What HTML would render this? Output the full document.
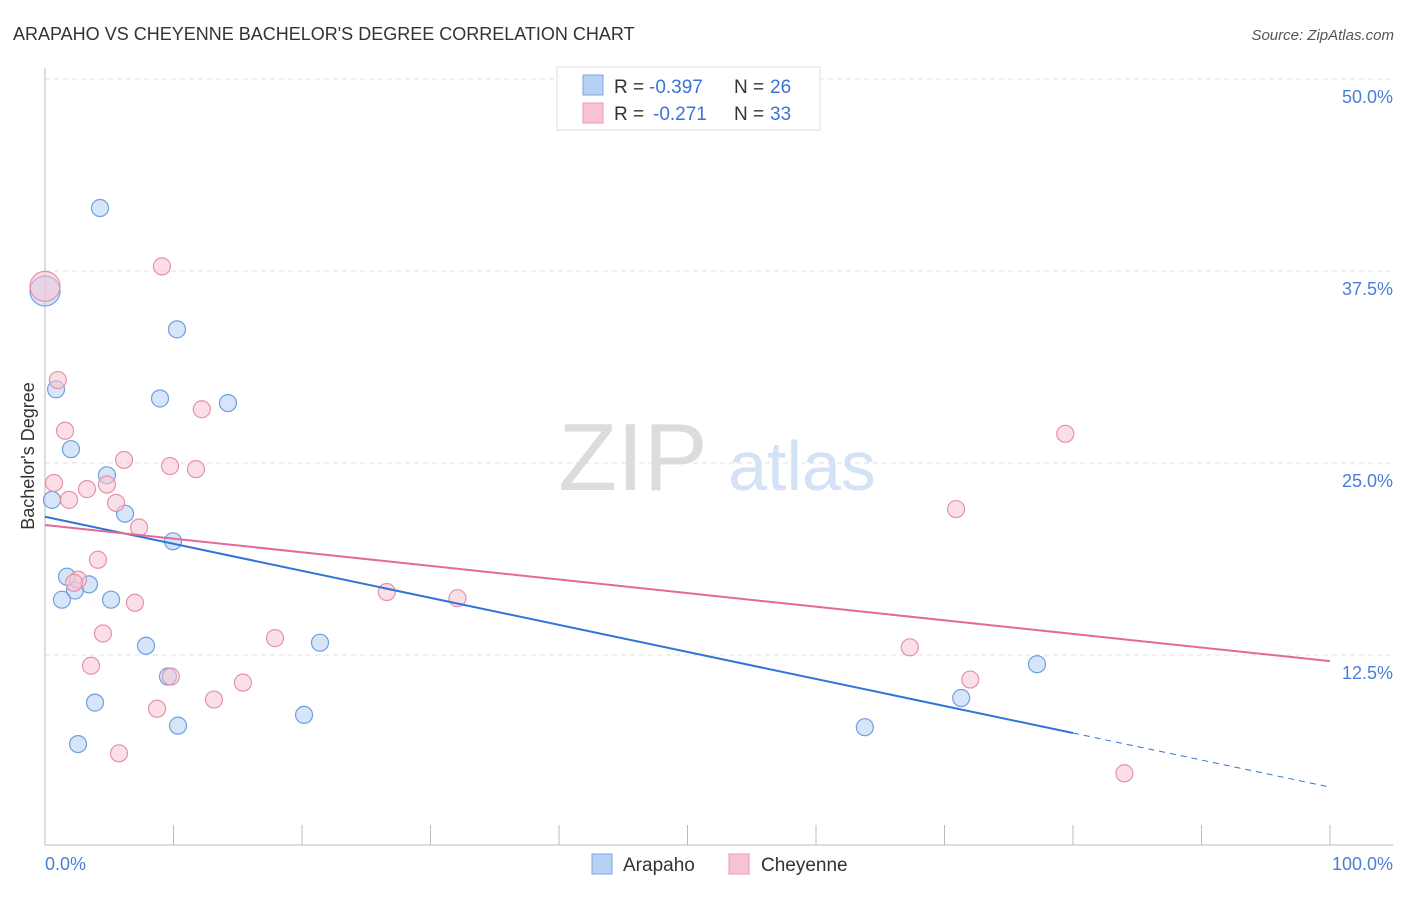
<!DOCTYPE html>
<html><head><meta charset="utf-8"><style>
body{margin:0;background:#fff;font-family:"Liberation Sans",sans-serif;}
svg text{font-family:"Liberation Sans",sans-serif;}
</style></head><body>
<svg id="chart" width="1406" height="892" xmlns="http://www.w3.org/2000/svg">
<text x="13" y="40" font-size="18" fill="#333">ARAPAHO VS CHEYENNE BACHELOR'S DEGREE CORRELATION CHART</text>
<text x="1394" y="40" font-size="15" fill="#555" font-style="italic" text-anchor="end">Source: ZipAtlas.com</text>
<g id="grid"></g>
<g>
<text x="633" y="490" font-size="96" fill="#dcdcdc" text-anchor="middle" font-family="Liberation Serif, serif">ZIP</text>
<text x="802" y="490" font-size="70" fill="#d4e2f5" text-anchor="middle">atlas</text>
</g>
<line x1="45" y1="845" x2="1393" y2="845" stroke="#bbb"/>
<line x1="45" y1="68" x2="45" y2="845" stroke="#bbb"/>
<g id="xticks"></g>
<g id="ylabels"></g>
<text x="45" y="870" font-size="18" fill="#4a7fd8">0.0%</text>
<text x="1393" y="870" font-size="18" fill="#4a7fd8" text-anchor="end">100.0%</text>
<text transform="translate(34,456) rotate(-90)" font-size="18" fill="#333" text-anchor="middle">Bachelor's Degree</text>
<g id="points"></g>
<g id="trends"></g>
<g>
<rect x="557" y="67" width="263" height="63" fill="#fff" stroke="#ddd"/>
<rect x="583" y="75" width="20" height="20" fill="#b7d0f3" stroke="#7aa7e6"/>
<rect x="583" y="103" width="20" height="20" fill="#f8c4d3" stroke="#eb9ab4"/>
<text x="614" y="93" font-size="19" fill="#333">R =</text>
<text x="649" y="93" font-size="19" fill="#3b74d4">-0.397</text>
<text x="734" y="93" font-size="19" fill="#333">N =</text>
<text x="770" y="93" font-size="19" fill="#3b74d4">26</text>
<text x="614" y="120" font-size="19" fill="#333">R =</text>
<text x="653" y="120" font-size="19" fill="#3b74d4">-0.271</text>
<text x="734" y="120" font-size="19" fill="#333">N =</text>
<text x="770" y="120" font-size="19" fill="#3b74d4">33</text>
</g>
<g>
<rect x="592" y="854" width="20" height="20" fill="#b7d0f3" stroke="#7aa7e6"/>
<text x="623" y="871" font-size="19" fill="#333">Arapaho</text>
<rect x="729" y="854" width="20" height="20" fill="#f8c4d3" stroke="#eb9ab4"/>
<text x="761" y="871" font-size="19" fill="#333">Cheyenne</text>
</g>
</svg>
<script>
const yTicks=[12.5,25,37.5,50];
const yTickLabels=["12.5%","25.0%","37.5%","50.0%"];
const arapahoX=[4.28,0,10.27,0.86,8.95,14.24,2.02,4.82,0.54,6.23,9.96,1.71,3.42,2.33,1.32,5.14,7.86,21.4,9.57,3.89,10.35,20.16,2.57,63.8,71.3,77.2];
const arapahoY=[41.6,36.2,33.7,29.8,29.2,28.9,25.9,24.2,22.6,21.7,19.9,17.6,17.1,16.7,16.1,16.1,13.1,13.3,11.1,9.4,7.9,8.6,6.7,7.8,9.7,11.9];
const arapahoBig=[1];
const cheyenneX=[0,9.1,1.0,12.2,1.56,6.15,9.73,11.75,0.7,4.82,3.27,1.87,5.53,7.32,4.12,2.57,2.26,7.0,26.6,32.1,4.51,17.9,3.58,9.8,15.4,13.15,8.72,5.76,79.4,70.9,67.3,72.0,84.0];
const cheyenneY=[36.5,37.8,30.4,28.5,27.1,25.2,24.8,24.6,23.7,23.6,23.3,22.6,22.4,20.8,18.7,17.4,17.2,15.9,16.6,16.2,13.9,13.6,11.8,11.1,10.7,9.6,9.0,6.1,26.9,22.0,13.0,10.9,4.8];
const cheyenneBig=[0];
const arapahoTrend=[21.5,3.9];
const cheyenneTrend=[20.96,12.1];
const arapahoSolidEnd=80;
const NS="http://www.w3.org/2000/svg";
const X=v=>45+v*12.85;
const Y=v=>847-v*15.36;
function mk(t,a,p){const e=document.createElementNS(NS,t);for(const k in a)e.setAttribute(k,a[k]);p.appendChild(e);return e;}
const grid=document.getElementById('grid'),yl=document.getElementById('ylabels'),xt=document.getElementById('xticks');
yTicks.forEach((t,i)=>{
 const l=mk('line',{x1:45,x2:1393,y1:Y(t),y2:Y(t),stroke:'#e2e2e2','stroke-dasharray':'5,4'},grid);
 
 
 const tx=mk('text',{x:1393,y:Y(t)+24,'font-size':18,fill:'#4a7fd8','text-anchor':'end'},yl);
 tx.textContent=yTickLabels[i];
 
 
});
for(let i=1;i<=10;i++){
 const l=mk('line',{x1:X(i*10),x2:X(i*10),y1:825,y2:845,stroke:'#bbb'},xt);
 
 
}
const pts=document.getElementById('points');
function series(xs,ys,big,fill,stroke,name){
 xs.forEach((x,i)=>{
  const r=big.includes(i)?15:8.5;
  const c=mk('circle',{cx:X(x),cy:Y(ys[i]),r:r,fill:fill,'fill-opacity':0.55,stroke:stroke,'stroke-width':1.2},pts);
  
  
 });
}
series(arapahoX,arapahoY,arapahoBig,'#b7d0f3','#6f9fe0','arapaho');
series(cheyenneX,cheyenneY,cheyenneBig,'#f8c4d3','#e890ab','cheyenne');
const tr=document.getElementById('trends');
const at=v=>arapahoTrend[0]+(arapahoTrend[1]-arapahoTrend[0])*v/100;
let l1=mk('line',{x1:X(0),y1:Y(at(0)),x2:X(arapahoSolidEnd),y2:Y(at(arapahoSolidEnd)),stroke:'#2f74d8','stroke-width':2},tr);


let l2=mk('line',{x1:X(arapahoSolidEnd),y1:Y(at(arapahoSolidEnd)),x2:X(100),y2:Y(at(100)),stroke:'#2f74d8','stroke-width':1,'stroke-dasharray':'6,5'},tr);


let l3=mk('line',{x1:X(0),y1:Y(cheyenneTrend[0]),x2:X(100),y2:Y(cheyenneTrend[1]),stroke:'#e3699a','stroke-width':2},tr);


</script>
</body></html>
